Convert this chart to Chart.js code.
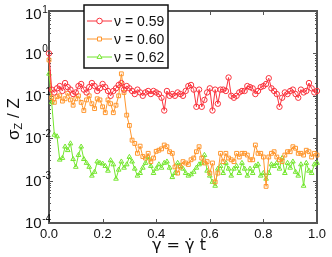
<!DOCTYPE html>
<html>
<head>
<meta charset="utf-8">
<script src="https://cdn.jsdelivr.net/npm/chart.js@4.4.1/dist/chart.umd.min.js"></script>
<style>
html, body { margin: 0; padding: 0; background: #fff; }
#wrap { width: 332px; height: 257px; }
</style>
</head>
<body>
<div id="wrap"><canvas id="chart_sigma" width="332" height="257"></canvas></div>
<script>
// strain gamma = gamma-dot * t
const strain = [
  0.00, 0.01, 0.02, 0.03, 0.04, 0.05, 0.06, 0.07, 0.08, 0.09,
  0.10, 0.11, 0.12, 0.13, 0.14, 0.15, 0.16, 0.17, 0.18, 0.19,
  0.20, 0.21, 0.22, 0.23, 0.24, 0.25, 0.26, 0.27, 0.28, 0.29,
  0.30, 0.31, 0.32, 0.33, 0.34, 0.35, 0.36, 0.37, 0.38, 0.39,
  0.40, 0.41, 0.42, 0.43, 0.44, 0.45, 0.46, 0.47, 0.48, 0.49,
  0.50, 0.51, 0.52, 0.53, 0.54, 0.55, 0.56, 0.57, 0.58, 0.59,
  0.60, 0.61, 0.62, 0.63, 0.64, 0.65, 0.66, 0.67, 0.68, 0.69,
  0.70, 0.71, 0.72, 0.73, 0.74, 0.75, 0.76, 0.77, 0.78, 0.79,
  0.80, 0.81, 0.82, 0.83, 0.84, 0.85, 0.86, 0.87, 0.88, 0.89,
  0.90, 0.91, 0.92, 0.93, 0.94, 0.95, 0.96, 0.97, 0.98, 0.99,
  1.00
];

// sigma_Z / Z, nu = 0.59
const nu059 = [
  1.0, 0.14, 0.12, 0.15, 0.17, 0.13, 0.2, 0.16, 0.14, 0.11,
  0.12, 0.17, 0.19, 0.14, 0.12, 0.16, 0.2, 0.17, 0.13, 0.15,
  0.19, 0.16, 0.13, 0.1, 0.13, 0.15, 0.18, 0.2, 0.14, 0.17,
  0.15, 0.13, 0.11, 0.14, 0.12, 0.1, 0.12, 0.13, 0.11, 0.13,
  0.12, 0.11, 0.09, 0.045, 0.13, 0.1, 0.11, 0.1, 0.12, 0.11,
  0.1, 0.13, 0.17, 0.18, 0.14, 0.055, 0.14, 0.055, 0.08, 0.12,
  0.15, 0.045, 0.14, 0.065, 0.14, 0.14, 0.13, 0.27, 0.1, 0.09,
  0.1, 0.12, 0.13, 0.13, 0.17, 0.16, 0.15, 0.11, 0.13, 0.16,
  0.17, 0.19, 0.26, 0.15, 0.13, 0.11, 0.055, 0.09, 0.12, 0.11,
  0.13, 0.14, 0.11, 0.09, 0.14, 0.12, 0.13, 0.2, 0.15, 0.12,
  0.13
];

// nu = 0.60
const nu060 = [
  0.7, 0.09, 0.07, 0.095, 0.1, 0.075, 0.085, 0.115, 0.08, 0.06,
  0.085, 0.1, 0.07, 0.045, 0.08, 0.1, 0.065, 0.05, 0.085, 0.08,
  0.055, 0.04, 0.08, 0.065, 0.04, 0.06, 0.1, 0.33, 0.12, 0.035,
  0.02, 0.009, 0.0075, 0.0044, 0.0065, 0.0037, 0.0034, 0.0044, 0.0028, 0.0034,
  0.0049, 0.0052, 0.0056, 0.0069, 0.0063, 0.0048, 0.0044, 0.0021, 0.0015, 0.0021,
  0.0028, 0.0026, 0.0024, 0.0031, 0.0034, 0.0048, 0.0063, 0.0034, 0.0026, 0.0028,
  0.0015, 0.0026, 0.00093, 0.0015, 0.0044, 0.0028, 0.0044, 0.0034, 0.0031, 0.0028,
  0.0044, 0.0036, 0.0044, 0.0044, 0.004, 0.0031, 0.0031, 0.0069, 0.0044, 0.0044,
  0.0036, 0.00073, 0.0036, 0.0044, 0.0048, 0.0036, 0.0031, 0.0028, 0.004, 0.0048,
  0.0048, 0.0063, 0.0058, 0.0044, 0.0044, 0.004, 0.0052, 0.0048, 0.0036, 0.0044,
  0.004
];

// nu = 0.62
const nu062 = [
  0.33, 0.07, 0.012, 0.011, 0.0031, 0.0034, 0.0063, 0.0052, 0.0075, 0.0032,
  0.0021, 0.004, 0.0063, 0.0032, 0.0026, 0.0021, 0.0013, 0.0016, 0.0028, 0.0026,
  0.0025, 0.0022, 0.0017, 0.003, 0.0024, 0.0011, 0.0018, 0.0028, 0.002, 0.0024,
  0.0036, 0.0028, 0.0019, 0.0013, 0.0015, 0.002, 0.0026, 0.0036, 0.0022, 0.0015,
  0.0019, 0.0024, 0.002, 0.0026, 0.0028, 0.002, 0.0012, 0.0015, 0.0026, 0.0022,
  0.0019, 0.0015, 0.0013, 0.0014, 0.0016, 0.002, 0.0024, 0.0026, 0.004, 0.0017,
  0.0013, 0.00093, 0.00075, 0.0019, 0.0022, 0.0015, 0.0026, 0.0019, 0.0013, 0.0019,
  0.0022, 0.0015, 0.0026, 0.0019, 0.0013, 0.0019, 0.0015, 0.0022, 0.0024, 0.0013,
  0.0015, 0.0011, 0.0015, 0.0024, 0.0022, 0.0026, 0.0019, 0.0034, 0.0015, 0.0026,
  0.002, 0.0028, 0.0016, 0.0013, 0.0024, 0.00075, 0.0026, 0.0017, 0.0015, 0.0024,
  0.0026
];

const seriesNames = ['\u03bd = 0.59', '\u03bd = 0.60', '\u03bd = 0.62'];
const seriesColors = ['rgb(250,50,60)', 'rgb(255,150,45)', 'rgb(115,230,45)'];
const seriesMarkers = ['circle', 'rect', 'triangle'];
const xTicks = [0, 0.2, 0.4, 0.6, 0.8, 1.0];
const xTickLabels = ['0.0', '0.2', '0.4', '0.6', '0.8', '1.0'];
const yDecades = [1, 0, -1, -2, -3, -4];

const FONT = '"Liberation Sans", Arial, sans-serif';

function toPoints(vals) {
  return vals.map((v, i) => ({ x: strain[i], y: v }));
}

const axesPlugin = {
  id: 'axesFrame',
  beforeDatasetsDraw(chart) {
    const { ctx, chartArea: a, scales: { x, y } } = chart;
    ctx.save();
    ctx.strokeStyle = '#555';
    ctx.lineWidth = 1;
    // x ticks, top and bottom, pointing inward
    xTicks.forEach(v => {
      const px = Math.round(x.getPixelForValue(v)) + 0.5;
      ctx.beginPath();
      ctx.moveTo(px, a.bottom); ctx.lineTo(px, a.bottom - 4);
      ctx.moveTo(px, a.top); ctx.lineTo(px, a.top + 4);
      ctx.stroke();
    });
    // log ticks left and right
    yDecades.forEach(d => {
      for (let m = 1; m <= 9; m++) {
        const v = m * Math.pow(10, d);
        if (v > 10.0001 || v < 0.99e-4) continue;
        const py = Math.round(y.getPixelForValue(v)) + 0.5;
        const len = m === 1 ? 4 : 2;
        ctx.beginPath();
        ctx.moveTo(a.left, py); ctx.lineTo(a.left + len, py);
        ctx.moveTo(a.right, py); ctx.lineTo(a.right - len, py);
        ctx.stroke();
      }
    });
    // frame
    ctx.lineWidth = 2;
    ctx.strokeRect(a.left, a.top, a.right - a.left, a.bottom - a.top);

    // tick labels
    ctx.fillStyle = '#111';
    ctx.font = '13px ' + FONT;
    ctx.textAlign = 'center';
    ctx.textBaseline = 'top';
    xTicks.forEach((v, i) => {
      ctx.fillText(xTickLabels[i], x.getPixelForValue(v), a.bottom + 5);
    });
    yDecades.forEach(d => {
      const py = Math.max(y.getPixelForValue(Math.pow(10, d)) + 1, a.top + 4);
      ctx.textAlign = 'left';
      ctx.textBaseline = 'middle';
      ctx.font = '15px ' + FONT;
      ctx.fillText('10', 25, py);
      const w = ctx.measureText('10').width;
      ctx.font = '10px ' + FONT;
      ctx.fillText(d < 0 ? '-' + (-d) : String(d), 25 + w + 0.5, py - 5);
    });

    // axis titles
    ctx.font = '16px "DejaVu Sans", sans-serif';
    ctx.textAlign = 'center';
    ctx.textBaseline = 'alphabetic';
    ctx.fillText('\u03b3 = \u03b3\u0307 t', (a.left + a.right) / 2 - 4, 250);

    ctx.save();
    ctx.translate(19, 119);
    ctx.rotate(-Math.PI / 2);
    ctx.textAlign = 'left';
    ctx.font = '17px ' + FONT;
    const wS = ctx.measureText('\u03c3').width;
    const wR = ctx.measureText(' / Z').width;
    ctx.font = '11px ' + FONT;
    const wZ = ctx.measureText('Z').width;
    let sx = -(wS + wZ + wR) / 2;
    ctx.font = '17px ' + FONT;
    ctx.fillText('\u03c3', sx, 0);
    ctx.font = '11px ' + FONT;
    ctx.fillText('Z', sx + wS, 3);
    ctx.font = '17px ' + FONT;
    ctx.fillText(' / Z', sx + wS + wZ, 0);
    ctx.restore();
    ctx.restore();
  },
  afterDatasetsDraw(chart) {
    const { ctx } = chart;
    ctx.save();
    ctx.fillStyle = '#fff';
    ctx.fillRect(84, 5, 84, 63);
    ctx.strokeStyle = '#111';
    ctx.lineWidth = 1.5;
    ctx.strokeRect(84, 5, 84, 63);
    seriesNames.forEach((name, i) => {
      const ry = 21 + i * 18;
      ctx.strokeStyle = seriesColors[i];
      ctx.lineWidth = 1;
      ctx.beginPath();
      ctx.moveTo(87, ry); ctx.lineTo(112, ry);
      ctx.stroke();
      ctx.fillStyle = '#fff';
      Chart.helpers.drawPoint(ctx, { pointStyle: seriesMarkers[i], radius: 2.8, borderWidth: 1, rotation: 0 }, 99.5, ry);
      ctx.fillStyle = '#111';
      ctx.font = '14px ' + FONT;
      ctx.textAlign = 'left';
      ctx.textBaseline = 'middle';
      ctx.fillText(name, 114, ry + 1);
    });
    ctx.restore();
  }
};

const chartConfig = {
  type: 'line',
  data: {
    datasets: [nu059, nu060, nu062].map((vals, i) => ({
      label: seriesNames[i],
      data: toPoints(vals),
      borderColor: seriesColors[i],
      backgroundColor: 'rgba(0,0,0,0)',
      borderWidth: 1,
      pointStyle: seriesMarkers[i],
      pointRadius: 2.7,
      pointBorderWidth: 1,
      pointBorderColor: seriesColors[i],
      pointBackgroundColor: 'rgba(0,0,0,0)',
      tension: 0,
      clip: false
    }))
  },
  options: {
    responsive: false,
    animation: false,
    devicePixelRatio: 1,
    layout: { padding: { left: 49, right: 15, top: 11, bottom: 34 } },
    plugins: { legend: { display: false }, tooltip: { enabled: false } },
    scales: {
      x: { type: 'linear', min: 0, max: 1, display: false },
      y: { type: 'logarithmic', min: 1e-4, max: 10, display: false }
    }
  },
  plugins: [axesPlugin]
};

new Chart(document.getElementById('chart_sigma'), chartConfig);
</script>
</body>
</html>
